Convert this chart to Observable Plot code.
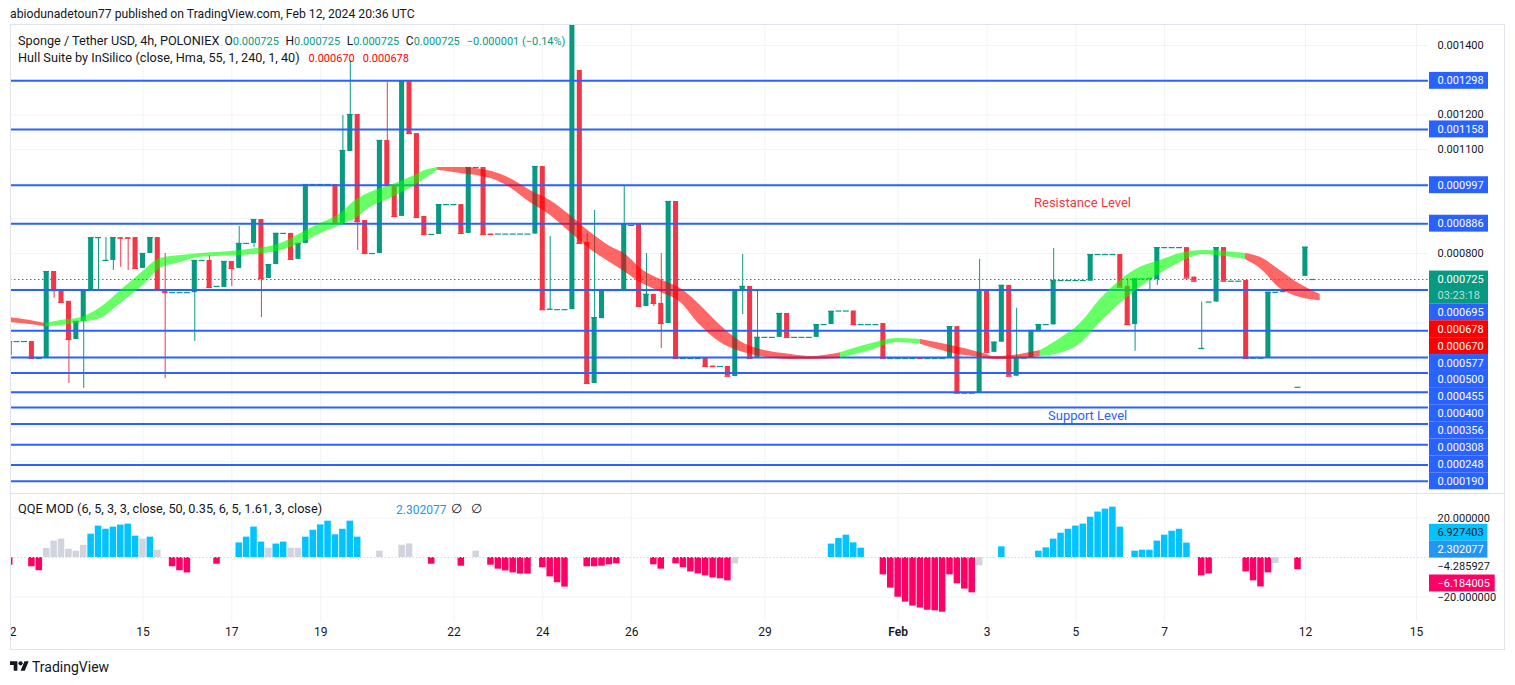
<!DOCTYPE html>
<html>
<head>
<meta charset="utf-8">
<script src="https://cdn.jsdelivr.net/npm/d3@7"></script>
<script src="https://cdn.jsdelivr.net/npm/@observablehq/plot@0.6"></script>
<style>
html,body{margin:0;padding:0;background:#fff;}
#root{position:relative;width:1515px;height:685px;overflow:hidden;background:#fff;font-family:Roboto,"Liberation Sans",sans-serif;color:#131722;}
.abs{position:absolute;white-space:nowrap;line-height:1;z-index:5;}
.k{margin-left:6.5px;font-size:12px;}
.num{font-size:11px;}
.gv{color:#089981;}
.rv{color:#ff0000;}
</style>
</head>
<body>
<div id="root"></div>
<script>
// ---------------- DATA ----------------
const U = 1e-6; // candle and hull values are in millionths of USD
// 4h candles, bar index 0 = 12 Jan 00:00
const openE6 = [506,546,546,546,497,497,748,696,662,552,
604,693,843,779,780,846,846,846,757,800,
846,696,687,687,687,687,780,780,705,702,
777,757,829,829,898,728,768,858,858,783,
829,999,999,999,999,887,1094,1201,895,800,
800,1126,996,907,1296,1146,907,855,855,941,
941,941,858,1048,1048,856,856,856,856,856,
856,856,1051,638,638,638,638,1328,832,425,
612,693,693,693,881,884,647,682,656,598,
950,497,497,497,498,475,474,474,445,696,
705,497,558,558,558,627,558,558,558,558,
595,595,634,634,634,595,595,595,598,497,
497,497,497,498,497,497,497,497,589,397,
397,397,693,515,544,708,446,498,498,576,
595,594,722,722,722,722,720,797,797,797,
797,705,595,727,727,725,817,817,817,817,
732,525,660,660,817,720,720,722,498,498,
498,688,687,696,414,734,725];
const closeE6 = [546,546,546,497,497,748,693,659,552,604,
693,846,846,780,846,844,844,757,800,846,
696,687,687,687,687,780,780,702,705,777,
757,829,829,898,728,768,858,858,783,829,
999,999,999,999,887,1097,1201,892,800,800,
1126,996,907,1296,1146,904,855,855,941,941,
941,858,1048,1048,855,855,856,856,856,856,
856,1051,638,639,638,638,1460,829,425,615,
693,693,693,884,881,647,682,656,598,950,
497,497,497,497,474,474,474,446,696,705,
497,558,558,558,627,558,558,558,558,595,
595,633,634,634,595,595,595,595,497,497,
497,497,497,497,497,497,497,589,397,397,
397,693,515,544,708,446,498,498,578,595,
595,722,722,722,722,722,797,797,797,797,
703,595,727,727,728,817,817,817,817,729,
720,526,660,817,720,720,720,497,498,498,
688,688,696,696,414,818,725];
const highE6 = [546,546,546,546,497,748,748,696,662,604,
693,846,846,846,846,846,846,846,800,846,
846,800,687,687,687,780,780,794,705,777,
777,878,829,898,898,768,858,858,858,829,
999,999,999,999,999,1198,1357,1201,895,800,
1126,1294,996,1296,1296,1146,907,855,941,941,
941,941,1048,1048,1048,856,856,856,856,856,
856,1051,1051,849,638,638,1460,1328,858,924,
693,693,693,996,881,884,800,682,800,950,
950,497,497,497,498,475,474,474,696,797,
705,696,558,558,627,627,558,558,558,595,
595,633,634,634,634,595,595,595,598,497,
497,497,497,498,497,497,497,589,589,397,
397,783,693,544,708,708,642,498,578,595,
595,814,722,722,722,722,797,797,797,797,
797,728,727,727,728,817,817,817,817,817,
732,660,660,817,817,720,720,722,498,498,
688,688,696,696,414,818,725];
const lowE6 = [506,546,546,497,497,497,671,659,425,552,
411,693,693,779,751,760,751,757,757,800,
696,439,687,687,687,546,780,702,705,702,
705,757,829,817,615,728,768,858,783,783,
829,999,999,999,887,887,1094,809,800,800,
800,996,907,907,1146,904,855,855,855,941,
941,858,858,1048,855,855,856,856,856,856,
856,856,638,638,638,638,638,829,425,425,
612,693,693,693,881,647,647,647,526,598,
497,497,497,497,474,474,474,446,445,624,
497,497,558,558,558,558,558,558,558,558,
595,595,634,634,595,595,595,595,497,497,
497,497,497,497,497,497,497,497,397,397,
397,397,515,515,544,446,446,498,498,576,
595,594,722,722,722,722,720,797,797,797,
703,595,518,727,696,708,817,817,817,729,
720,525,660,660,720,720,720,497,498,498,
498,688,687,696,414,734,725];

// Hull Suite ribbon (sampled), bar index / upper edge / lower edge (millionths), trend u=rising d=falling
const hullBar = [0,2.8,4.8,6.9,9.6,12.3,15,17.7,20.4,23.1,25.8,31.2,36.6,39.3,42,44.7,46.7,48.7,51.4,54.1,56.2,57.8,60.9,65,67.6,70.3,73,75.7,78.4,81.1,83.2,85.2,87.9,90.6,93.3,96,98.7,101.4,105.5,108.2,112.2,116.3,119.9,123,127,131.1,133.1,136.5,139.2,141.9,144.6,147.3,150,152.7,155.4,158.1,161.2,164.2,166.9,168.9,171.6,174.3,177];
const hullUpper = [615,607,598,607,615,644,693,742,786,794,800,809,829,858,887,915,953,976,996,1019,1040,1048,1048,1037,1016,982,953,910,861,820,797,757,725,699,650,592,546,523,509,503,514,540,555,552,535,514,503,509,520,555,598,667,722,760,780,800,809,806,800,789,751,711,682];
const hullLower = [601,595,589,592,601,613,656,702,757,774,789,794,809,829,858,881,901,933,959,988,1016,1040,1031,1016,990,947,910,861,812,774,745,716,688,659,592,543,517,503,494,494,497,520,543,538,514,500,494,497,503,512,540,601,656,702,742,774,797,791,783,757,699,673,664];
const hullTrend = "dduuuuuuuuuuuuuuuuuuuddddddddddddddddddduuuddddduuuuuuuuuudddddd".split("");

// Horizontal levels drawn on the chart
const levelPrices = [0.001298,0.001158,0.000997,0.000886,0.000695,0.000577,0.000500,0.000455,0.000400,0.000356,0.000308,0.000248,0.000190,0.000143];
const hullLastValues = [0.000678,0.000670];
const lastPrice = 0.000725;
const priceChange = "\u22120.000001 (\u22120.14%)";
const countdown = "03:23:18";
const priceTicks = [0.0002,0.0003,0.0004,0.0005,0.0006,0.0007,0.0008,0.0009,0.0010,0.0011,0.0012,0.0013,0.0014];

// Time axis
const timeTickBars = [0,18,30,42,60,72,84,102,120,132,144,156,175,190];
const timeTickLabels = ["12","15","17","19","22","24","26","29","Feb","3","5","7","12","15"];

// QQE MOD histogram
const qqeBar = [0,3,4,5,6,7,8,9,10,11,
12,13,14,15,16,17,18,19,20,22,
23,24,28,31,32,33,34,35,36,37,
38,39,40,41,42,43,44,45,46,47,
50,53,54,57,61,63,65,66,67,68,
69,70,72,73,74,75,78,79,80,81,
82,87,88,90,91,92,93,94,95,96,
97,98,111,112,113,114,115,118,119,120,
121,122,123,124,125,126,127,128,129,130,
131,134,139,140,141,142,143,144,145,146,
147,148,149,150,152,153,154,155,156,157,
158,159,161,162,167,168,169,170,171,174];
const qqeValue = [-3.9,-4.7,-6.7,4.6,8.3,9.3,4.2,3.2,6.2,11.8,
15.9,14.3,15.4,16.4,16.9,10.8,9.3,10.3,3.7,-4.7,
-6.7,-7.8,-3.4,7.4,10.3,15.4,7.8,4.7,6.8,7.8,
4.7,4.7,10.3,13.8,16.5,18.4,11.5,14.3,18.4,10.3,
3.2,6.2,6.9,-3.4,-4.4,3.2,-3.9,-5.9,-6.8,-7.8,
-8.4,-8.4,-5.2,-9.8,-12.8,-15.0,-4.7,-4.7,-4.4,-3.7,
-3.2,-3.7,-5.9,-3.2,-5.2,-7.3,-8.3,-9.3,-10.3,-10.8,
-11.8,-3.2,6.8,9.6,11.3,7.4,4.7,-8.8,-15.5,-20.1,
-22.6,-24.6,-25.6,-26.7,-27.0,-27.7,-8.8,-13.3,-16.0,-17.9,
-4.2,5.4,3.2,4.9,9.3,12.3,14.3,15.9,16.9,20.4,
23.0,24.5,25.5,15.4,3.2,3.7,3.7,8.3,11.3,13.3,
14.3,7.3,-9.3,-8.3,-7.3,-11.8,-14.9,-7.8,-3.0,-6.2];
const qqeState = ("dddnnnnnnu"+"uuuuuunund"+"ddduuuunuu"+"nnuuuuuuuu"+"nnnddndddd"+
"dddddddddd"+"dddddddddd"+"dnuuuuuddd"+"dddddddddd"+"nuuuuuuuuu"+"uuuuuuuuuu"+"uuddddddnd").split("");
const qqeTicks = [20,-20];
const qqeLabels = [
  {v:6.927403, bg:"#00c3ff", fg:"#131722"},
  {v:2.302077, bg:"#2196f3", fg:"#ffffff"},
  {v:-4.285927, bg:null, fg:"#131722"},
  {v:-6.184005, bg:"#ff0066", fg:"#ffffff"}
];

// ---------------- STYLE ----------------
const GREEN="#089981", RED="#f23645", BLUE="#2962ff";
const QQE_COL = {u:"#00c3ff", d:"#ff0066", n:"#d1d4dc"};
const GRID="#f0f3fa", BORDER="#e0e3eb";
const FONT="Roboto, 'Liberation Sans', sans-serif";
const X = {domain:[0,190], range:[-0.8, -0.8+190*7.404]};
const YMAIN = {domain:[0.0008,0.0014], range:[228,20]};
const YQQE = {domain:[-20,20], range:[103.5,24.5]};
const MAIN_H = 468;
const root = document.getElementById("root");

function place(el, left, top){
  el.style.position="absolute"; el.style.left=left+"px"; el.style.top=top+"px";
  el.style.background="transparent"; el.style.overflow="hidden"; el.style.maxWidth="none";
  el.style.fontFamily=FONT;
  root.appendChild(el);
}
const minus = v => (v<0?"\u2212":"") + Math.abs(v).toFixed(6);

// ---------------- BUILD ROWS ----------------
const bars = openE6.map((o,i)=>{
  const O=o*U, C=closeE6[i]*U;
  return {k:i, o:O, c:C, h:Math.max(highE6[i]*U,O,C), l:Math.min(lowE6[i]*U,O,C), col:C>=O?GREEN:RED};
});
const hullPts = hullBar.map((k,i)=>({k, hi:hullUpper[i]*U, lo:hullLower[i]*U, t:hullTrend[i]}));
const segs=[]; let cur=null;
for(let i=0;i<hullPts.length-1;i++){
  const t=hullPts[i].t;
  if(!cur||cur.t!==t){cur={t,pts:[hullPts[i]]};segs.push(cur);}
  cur.pts.push(hullPts[i+1]);
}
const hullRows = segs.flatMap((s,si)=>s.pts.map(p=>({k:p.k,hi:p.hi,lo:p.lo,seg:si,col:s.t==="u"?"#00ff00":"#ff0000"})));
const qqeRows = qqeBar.map((k,i)=>({k, v:qqeValue[i], col:QQE_COL[qqeState[i]]}));
const timeRows = timeTickBars.map((k,i)=>({k, label:timeTickLabels[i]}));

// ---------------- MAIN PANE ----------------
const main = Plot.plot({
  width:1418, height:MAIN_H, margin:0,
  x:{...X, axis:null}, y:{...YMAIN, axis:null},
  color:{type:"identity"},
  marks:[
    Plot.ruleY(priceTicks,{stroke:GRID}),
    Plot.ruleX(timeTickBars,{stroke:GRID}),
    Plot.ruleX(bars,{x:"k",y1:"l",y2:"h",stroke:"col",strokeWidth:1,clip:true}),
    Plot.rect(bars,{x1:d=>d.k-0.34,x2:d=>d.k+0.34,y1:"o",y2:"c",fill:"col",clip:true}),
    Plot.ruleY(bars,{x1:d=>d.k-0.4,x2:d=>d.k+0.4,y:"c",stroke:"col",strokeWidth:1.2,clip:true}),
    Plot.ruleY(levelPrices,{stroke:BLUE,strokeWidth:2}),
    Plot.areaY(hullRows,{x:"k",y1:"lo",y2:"hi",z:"seg",fill:"col",fillOpacity:0.6,curve:"monotone-x",clip:true}),
    Plot.ruleY([lastPrice],{stroke:GREEN,strokeDasharray:"1.5,2.5",strokeWidth:1.2})
  ]
});
place(main,10,25);

// main price axis with stacked labels (pushed downward like the reference scale)
const ys = Plot.scale({y:YMAIN});
const LH = 16.9;
const items = [
  ...levelPrices.map(v=>({v,rows:[v.toFixed(6)],bg:BLUE,fg:"#ffffff"})),
  ...hullLastValues.map(v=>({v,rows:[v.toFixed(6)],bg:"#ff0000",fg:"#ffffff"})),
  {v:lastPrice,rows:[lastPrice.toFixed(6),countdown],bg:GREEN,fg:"#ffffff",fg2:"rgba(255,255,255,0.72)"}
].map(d=>({...d,c:ys.apply(d.v)})).sort((a,b)=>a.c-b.c);
let prev=-Infinity;
for(const it of items){
  const h = it.rows.length*LH-(it.rows.length>1?1:0);
  it.top=Math.max(it.c-LH/2,prev); it.bot=it.top+h; prev=it.bot;
}
const shown = items.filter(it=>it.bot<=MAIN_H+1);
const boxRows = shown.map(it=>({y1:ys.invert(it.top),y2:ys.invert(it.bot),bg:it.bg}));
const txtRows = shown.flatMap(it=>it.rows.map((t,r)=>({y:ys.invert(it.top+LH/2+r*15.5),text:t,fg:r?it.fg2:it.fg})));
// tick labels that are not covered by a label box
const freeTicks = priceTicks.filter(v=>{const p=ys.apply(v);return p>6 && !shown.some(it=>p>it.top-6&&p<it.bot+6);});
const axisMain = Plot.plot({
  width:88,height:MAIN_H,margin:0,
  x:{domain:[0,88],range:[0,88],axis:null}, y:{...YMAIN,axis:null},
  color:{type:"identity"},
  marks:[
    Plot.text(freeTicks,{x:()=>10,y:d=>d,text:d=>d.toFixed(6),textAnchor:"start",fontSize:11,fill:"#131722"}),
    Plot.rect(boxRows,{x1:()=>2,x2:()=>61,y1:"y1",y2:"y2",fill:"bg"}),
    Plot.text(txtRows,{x:()=>10,y:"y",text:"text",fill:"fg",textAnchor:"start",fontSize:11})
  ]
});
place(axisMain,1427,25);

// ---------------- QQE PANE ----------------
const qqe = Plot.plot({
  width:1418,height:157,marginTop:0,marginBottom:28,marginLeft:0,marginRight:0,
  x:{...X,axis:null}, y:{...YQQE,axis:null},
  color:{type:"identity"},
  marks:[
    Plot.ruleX(timeTickBars,{stroke:GRID}),
    Plot.ruleY(qqeTicks,{stroke:GRID}),
    Plot.rect(qqeRows,{x1:d=>d.k-0.44,x2:d=>d.k+0.44,y1:()=>0,y2:"v",fill:"col",clip:true}),
    Plot.ruleY([0],{stroke:"#d5d8df",strokeDasharray:"1.5,2"}),
    Plot.text(timeRows.filter(d=>d.label!=="Feb"),{x:"k",text:"label",frameAnchor:"bottom",dy:13,fontSize:12,fill:"#131722"}),
    Plot.text(timeRows.filter(d=>d.label==="Feb"),{x:"k",text:"label",frameAnchor:"bottom",dy:13,fontSize:12,fontWeight:600,fill:"#131722"})
  ]
});
place(qqe,10,493);

// QQE axis labels (clusters centred on their values)
const yq = Plot.scale({y:YQQE});
let groups = qqeLabels.map(d=>({items:[{...d,c:yq.apply(d.v)}]})).sort((a,b)=>a.items[0].c-b.items[0].c);
groups.forEach(g=>g.center=g.items[0].c);
let changed=true;
while(changed){
  changed=false;
  for(let i=0;i<groups.length-1;i++){
    const a=groups[i],b=groups[i+1];
    if(a.center+a.items.length*LH/2 > b.center-b.items.length*LH/2){
      const its=a.items.concat(b.items);
      groups.splice(i,2,{items:its,center:d3.mean(its,d=>d.c)});
      changed=true;break;
    }
  }
}
const qItems = groups.flatMap(g=>g.items.map((it,j)=>({...it,mid:g.center-g.items.length*LH/2+LH*(j+0.5)})));
const qBoxes = qItems.filter(d=>d.bg).map(d=>({y1:yq.invert(d.mid-LH/2),y2:yq.invert(d.mid+LH/2),bg:d.bg,w:minus(d.v).length*7.3+2}));
const qTexts = qItems.map(d=>({y:yq.invert(d.mid),text:minus(d.v),fg:d.fg}));
const axisQ = Plot.plot({
  width:88,height:129,margin:0,
  x:{domain:[0,88],range:[0,88],axis:null}, y:{...YQQE,axis:null},
  color:{type:"identity"},
  marks:[
    Plot.text(qqeTicks,{x:()=>10,y:d=>d,text:d=>minus(d),textAnchor:"start",fontSize:11,fill:"#131722"}),
    Plot.rect(qBoxes,{x1:()=>2,x2:"w",y1:"y1",y2:"y2",fill:"bg"}),
    Plot.text(qTexts,{x:()=>10,y:"y",text:"text",fill:"fg",textAnchor:"start",fontSize:11})
  ]
});
place(axisQ,1427,493);

// ---------------- FRAME & TEXT OVERLAYS ----------------
function div(html, css){const d=document.createElement("div");d.className="abs";d.style.cssText+=css;d.innerHTML=html;root.appendChild(d);return d;}
div("",`left:10px;top:24px;width:1495px;height:626px;border:1px solid ${BORDER};box-sizing:border-box;z-index:4;`);
div("",`left:10px;top:493px;width:1495px;height:1px;background:${BORDER};z-index:4;`);
div("abiodunadetoun77 published on TradingView.com, Feb 12, 2024 20:36 UTC","left:10px;top:8px;font-size:12.2px;");
const p6 = lastPrice.toFixed(6);
div(`Sponge / Tether USD, 4h, POLONIEX<span class="k" style="margin-left:5px">O<span class="num gv">${p6}</span></span><span class="k">H<span class="num gv">${p6}</span></span><span class="k">L<span class="num gv">${p6}</span></span><span class="k">C<span class="num gv">${p6}</span></span><span class="num gv" style="margin-left:7px">${priceChange}</span>`,"left:18px;top:35px;font-size:12.7px;");
div(`Hull Suite by InSilico (close, Hma, 55, 1, 240, 1, 40)<span class="num rv" style="margin-left:9px">${hullLastValues[1].toFixed(6)}</span><span class="num rv" style="margin-left:8px">${hullLastValues[0].toFixed(6)}</span>`,"left:18px;top:52px;font-size:12.7px;");
div("Resistance Level",`left:1034px;top:196px;font-size:13px;color:${RED};`);
div("Support Level",`left:1048px;top:409px;font-size:13px;color:${BLUE};`);
div("QQE MOD (6, 5, 3, 3, close, 50, 0.35, 6, 5, 1.61, 3, close)","left:18px;top:503px;font-size:12.7px;");
div("2.302077","left:396px;top:504px;font-size:12px;color:#2196f3;");
div("\u2205","left:451px;top:503px;font-size:12.5px;");
div("\u2205","left:471px;top:503px;font-size:12.5px;");
div(`<svg width="19" height="15" viewBox="0 0 36 28" style="vertical-align:-2px"><path fill="#131722" d="M14 22H7V11H0V4h14v18zM28 22h-8l7.5-18h8L28 22z"/><circle fill="#131722" cx="20" cy="8" r="4"/></svg><span style="margin-left:3px">TradingView</span>`,"left:10px;top:659px;font-size:14px;");
</script>
</body>
</html>
